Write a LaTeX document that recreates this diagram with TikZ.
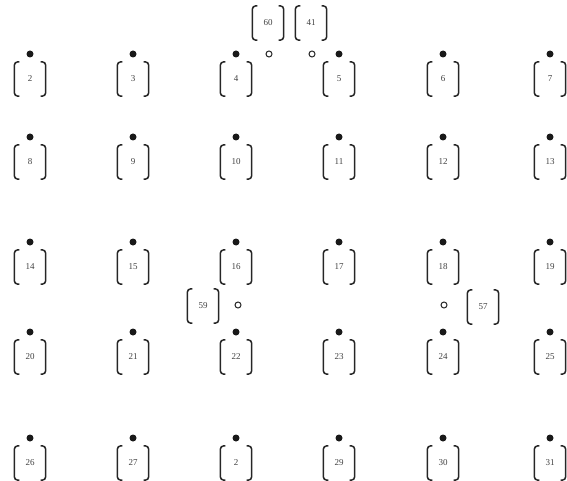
\documentclass[tikz,border=0pt]{standalone}
\usepackage{fontspec}
\setmainfont{Liberation Serif}
\begin{document}
\begin{tikzpicture}[x=1pt,y=-1pt,
  site/.style={minimum width=31pt,minimum height=34pt,inner sep=0pt,font=\fontsize{9}{10}\selectfont,text=black!75},
  brk/.style={line width=1.5pt,draw=black!85,rounded corners=3.5pt},
  fdot/.style={circle,fill=black!90,inner sep=0pt,minimum size=7pt},
  odot/.style={circle,draw=black!85,line width=1pt,fill=white,inner sep=0pt,minimum size=6pt}]
\useasboundingbox (0,0) rectangle (567,481);
\newcommand\brackets[1]{%
  \draw[brk] ([xshift=5pt]#1.north west) -- (#1.north west) -- (#1.south west) -- ([xshift=5pt]#1.south west);
  \draw[brk] ([xshift=-5pt]#1.north east) -- (#1.north east) -- (#1.south east) -- ([xshift=-5pt]#1.south east);}
% grid of sites
\foreach \lab/\nm/\x/\y in {
  2/2/30/79, 3/3/133/79, 4/4/236/79, 5/5/339/79, 6/6/443/79, 7/7/550/79,
  8/8/30/162, 9/9/133/162, 10/10/236/162, 11/11/339/162, 12/12/443/162, 13/13/550/162,
  14/14/30/267, 15/15/133/267, 16/16/236/267, 17/17/339/267, 18/18/443/267, 19/19/550/267,
  20/20/30/357, 21/21/133/357, 22/22/236/357, 23/23/339/357, 24/24/443/357, 25/25/550/357,
  26/26/30/463, 27/27/133/463, 2/28/236/463, 29/29/339/463, 30/30/443/463, 31/31/550/463}{
  \node[site] (s\nm) at (\x,\y) {\lab};
  \node[fdot] (d\nm) at (\x,\y-25) {};
  \brackets{s\nm}
}
% extra sites
\node[site] (s60) at (268,23) {60};
\node[site] (s41) at (311,23) {41};
\node[site] (s59) at (203,306) {59};
\node[site] (s57) at (483,307) {57};
\foreach \n in {s60,s41,s59,s57}{\brackets{\n}}
\node[odot] (o60) at (269,54) {};
\node[odot] (o41) at (312,54) {};
\node[odot] (o59) at (238,305) {};
\node[odot] (o57) at (444,305) {};
\end{tikzpicture}
\end{document}
